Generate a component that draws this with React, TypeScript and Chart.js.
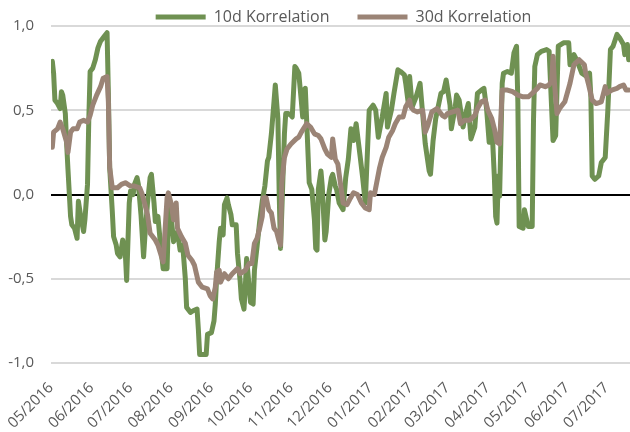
import React, { useEffect, useRef } from 'react';
import { Chart, registerables } from 'chart.js';

Chart.register(...registerables);

// Month tick labels and their day offsets from 2016-05-01
const monthLabels = ['05/2016', '06/2016', '07/2016', '08/2016', '09/2016', '10/2016', '11/2016', '12/2016', '01/2017', '02/2017', '03/2017', '04/2017', '05/2017', '06/2017', '07/2017'];
const monthStartDays = [0, 31, 61, 92, 123, 153, 184, 214, 245, 276, 304, 335, 365, 396, 426];

const yTicks = [-1, -0.5, 0, 0.5, 1];

// 10d Korrelation: day offset (from 2016-05-01) and value
const days10d = [1, 2, 3, 5, 7, 8, 9, 11, 12, 13, 15, 16, 18, 20, 21, 23, 25, 26, 28, 29, 30, 32, 34, 36, 38, 41, 43, 44, 45, 47, 48, 50, 51, 53, 55, 57, 58, 60, 61, 63, 64, 66, 67, 69, 71, 72, 74, 76, 77, 79, 80, 82, 84, 86, 89, 90, 91, 93, 94, 97, 99, 101, 103, 104, 107, 109, 112, 113, 114, 116, 119, 120, 123, 125, 126, 127, 129, 130, 132, 133, 135, 136, 138, 139, 142, 143, 145, 146, 148, 149, 150, 152, 153, 155, 156, 158, 160, 162, 164, 166, 167, 169, 171, 172, 174, 175, 176, 177, 179, 180, 182, 184, 185, 187, 188, 190, 192, 193, 194, 195, 196, 198, 200, 202, 203, 204, 205, 207, 208, 210, 211, 213, 215, 216, 218, 219, 221, 224, 226, 228, 230, 232, 234, 237, 239, 241, 244, 247, 249, 251, 254, 257, 258, 261, 263, 266, 268, 271, 272, 274, 275, 277, 280, 283, 285, 287, 290, 291, 293, 295, 299, 301, 303, 306, 307, 310, 311, 313, 316, 318, 320, 322, 325, 327, 330, 332, 334, 336, 338, 340, 341, 342, 343, 344, 346, 347, 350, 353, 355, 357, 358, 359, 362, 363, 366, 369, 370, 371, 373, 376, 380, 382, 385, 387, 389, 393, 397, 398, 401, 403, 407, 411, 413, 414, 415, 417, 420, 422, 425, 427, 429, 431, 434, 436, 439, 440, 442, 443];
const corr10d = [0.79, 0.72, 0.56, 0.54, 0.51, 0.61, 0.59, 0.48, 0.30, 0.15, -0.13, -0.18, -0.20, -0.26, -0.04, -0.14, -0.22, -0.15, 0.06, 0.45, 0.73, 0.75, 0.80, 0.87, 0.91, 0.94, 0.96, 0.60, 0.16, -0.10, -0.25, -0.30, -0.35, -0.37, -0.27, -0.35, -0.51, -0.05, 0.02, 0.00, 0.06, 0.10, 0.06, -0.12, -0.37, -0.25, -0.05, 0.10, 0.12, -0.05, -0.16, -0.13, -0.30, -0.44, -0.44, -0.15, -0.05, -0.20, -0.28, -0.22, -0.33, -0.30, -0.50, -0.67, -0.70, -0.69, -0.68, -0.80, -0.95, -0.95, -0.95, -0.83, -0.82, -0.75, -0.65, -0.50, -0.28, -0.20, -0.24, -0.06, -0.02, -0.06, -0.12, -0.18, -0.18, -0.35, -0.51, -0.62, -0.68, -0.55, -0.38, -0.55, -0.64, -0.65, -0.45, -0.31, -0.16, -0.04, 0.05, 0.20, 0.22, 0.36, 0.55, 0.65, 0.45, 0.00, -0.32, -0.10, 0.36, 0.48, 0.48, 0.47, 0.46, 0.76, 0.75, 0.72, 0.55, 0.46, 0.62, 0.63, 0.45, 0.07, 0.03, -0.15, -0.32, -0.33, 0.03, 0.14, 0.05, -0.27, -0.22, 0.00, 0.10, 0.12, 0.05, 0.03, -0.05, -0.09, 0.10, 0.21, 0.39, 0.32, 0.42, 0.23, 0.10, -0.05, 0.50, 0.53, 0.50, 0.34, 0.46, 0.60, 0.40, 0.50, 0.60, 0.74, 0.73, 0.71, 0.66, 0.54, 0.70, 0.52, 0.58, 0.66, 0.48, 0.30, 0.14, 0.12, 0.32, 0.45, 0.60, 0.61, 0.68, 0.53, 0.39, 0.52, 0.59, 0.56, 0.40, 0.48, 0.54, 0.33, 0.40, 0.60, 0.62, 0.63, 0.51, 0.31, 0.43, 0.10, -0.13, -0.17, 0.11, -0.01, 0.66, 0.72, 0.73, 0.72, 0.84, 0.88, 0.55, -0.19, -0.20, -0.09, -0.19, -0.19, 0.44, 0.76, 0.83, 0.85, 0.86, 0.85, 0.32, 0.35, 0.88, 0.90, 0.90, 0.77, 0.83, 0.80, 0.72, 0.70, 0.72, 0.58, 0.11, 0.09, 0.11, 0.19, 0.22, 0.50, 0.86, 0.88, 0.95, 0.93, 0.89, 0.83, 0.89, 0.80];

// 30d Korrelation: day offset (from 2016-05-01) and value
const days30d = [1, 2, 5, 7, 9, 12, 13, 15, 17, 20, 22, 25, 28, 30, 32, 35, 38, 40, 43, 44, 45, 47, 51, 54, 57, 61, 64, 68, 70, 74, 76, 80, 82, 84, 86, 89, 90, 92, 94, 96, 97, 100, 103, 105, 108, 110, 113, 116, 120, 122, 124, 126, 127, 129, 130, 133, 136, 139, 143, 145, 149, 152, 154, 156, 158, 160, 162, 163, 165, 167, 169, 171, 173, 175, 176, 177, 179, 181, 184, 188, 190, 192, 196, 199, 202, 205, 207, 210, 212, 215, 216, 218, 220, 221, 224, 227, 229, 232, 235, 238, 241, 244, 245, 248, 250, 252, 254, 257, 259, 262, 264, 267, 270, 272, 275, 276, 278, 281, 285, 287, 289, 292, 296, 300, 302, 304, 308, 312, 314, 317, 321, 325, 327, 330, 333, 335, 338, 340, 342, 344, 346, 350, 354, 358, 362, 366, 369, 373, 375, 379, 382, 384, 385, 386, 388, 390, 394, 398, 401, 405, 409, 410, 412, 415, 418, 422, 425, 426, 430, 434, 436, 439, 441, 443];
const corr30d = [0.28, 0.37, 0.39, 0.43, 0.39, 0.31, 0.25, 0.37, 0.39, 0.39, 0.43, 0.44, 0.43, 0.47, 0.53, 0.59, 0.64, 0.69, 0.70, 0.55, 0.16, 0.04, 0.04, 0.06, 0.07, 0.05, 0.05, 0.04, 0.00, -0.12, -0.23, -0.27, -0.30, -0.35, -0.40, -0.02, 0.01, -0.05, -0.15, -0.05, -0.20, -0.25, -0.29, -0.36, -0.39, -0.42, -0.52, -0.55, -0.56, -0.60, -0.62, -0.55, -0.46, -0.45, -0.52, -0.47, -0.50, -0.47, -0.44, -0.47, -0.45, -0.41, -0.41, -0.29, -0.26, -0.20, -0.13, -0.02, -0.02, -0.09, -0.11, -0.20, -0.22, -0.28, -0.30, 0.07, 0.22, 0.27, 0.30, 0.33, 0.34, 0.37, 0.42, 0.40, 0.36, 0.35, 0.33, 0.27, 0.24, 0.22, 0.33, 0.21, 0.18, 0.12, -0.05, -0.06, -0.03, 0.01, 0.00, -0.05, -0.08, -0.09, 0.01, 0.00, 0.08, 0.16, 0.22, 0.28, 0.34, 0.38, 0.42, 0.46, 0.46, 0.52, 0.56, 0.52, 0.50, 0.49, 0.50, 0.37, 0.41, 0.49, 0.51, 0.47, 0.46, 0.48, 0.49, 0.50, 0.42, 0.44, 0.44, 0.47, 0.51, 0.55, 0.56, 0.50, 0.45, 0.39, 0.31, 0.30, 0.62, 0.62, 0.61, 0.59, 0.58, 0.58, 0.60, 0.63, 0.65, 0.64, 0.65, 0.68, 0.82, 0.67, 0.48, 0.51, 0.55, 0.66, 0.77, 0.80, 0.77, 0.72, 0.66, 0.56, 0.54, 0.55, 0.64, 0.60, 0.62, 0.63, 0.64, 0.65, 0.62, 0.62];

const seriesNames = ['10d Korrelation', '30d Korrelation'];
const GREEN = '#6f9152';
const BROWN = '#9b8476';
const TEXT = '#595959';

const legendPlacer = {
  id: 'legendPlacer',
  afterLayout(chart: any) {
    const lg = chart.legend;
    if (!lg) return;
    const ca = chart.chartArea;
    lg.left = ca.left + 6;
    lg.right = ca.right;
    lg.width = lg.right - lg.left;
    lg.top = -19;
    lg.bottom = 40;
    lg.height = lg.bottom - lg.top;
  },
};

export default function App() {
  const ref = useRef<HTMLCanvasElement | null>(null);

  useEffect(() => {
    if (!ref.current) return;
    Chart.defaults.font.family = "'Open Sans', sans-serif";
    Chart.defaults.font.size = 15;
    Chart.defaults.color = TEXT;

    const chart = new Chart(ref.current, {
      type: 'line',
      data: {
        datasets: [
          {
            label: seriesNames[0],
            data: days10d.map((d, i) => ({ x: d, y: corr10d[i] })),
            borderColor: GREEN,
            backgroundColor: GREEN,
            borderWidth: 5,
            borderCapStyle: 'round',
            borderJoinStyle: 'round',
            pointRadius: 0,
            tension: 0,
            order: 2,
          },
          {
            label: seriesNames[1],
            data: days30d.map((d, i) => ({ x: d, y: corr30d[i] })),
            borderColor: BROWN,
            backgroundColor: BROWN,
            borderWidth: 5,
            borderCapStyle: 'round',
            borderJoinStyle: 'round',
            pointRadius: 0,
            tension: 0,
            order: 1,
          },
        ],
      },
      options: {
        animation: false,
        responsive: true,
        maintainAspectRatio: false,
        layout: { padding: 0 },
        plugins: {
          legend: {
            position: 'top',
            maxHeight: 24,
            labels: {
              usePointStyle: true,
              pointStyle: 'line',
              pointStyleWidth: 50,
              padding: 28,
              color: TEXT,
              font: { size: 16 },
              sort: (a: any, b: any) => a.datasetIndex - b.datasetIndex,
            },
          },
          tooltip: { enabled: false },
        },
        scales: {
          x: {
            type: 'linear',
            bounds: 'data',
            min: 0,
            max: 444,
            grid: { display: false, drawTicks: false },
            border: { display: false },
            afterBuildTicks: (scale: any) => {
              scale.ticks = monthStartDays.map((v) => ({ value: v }));
            },
            afterFit: (scale: any) => {
              scale.height = 69;
              scale.paddingLeft = 0;
              scale.paddingRight = 0;
            },
            ticks: {
              autoSkip: false,
              minRotation: 45,
              maxRotation: 45,
              padding: 16,
              color: TEXT,
              font: { size: 15 },
              callback: (v: any) => {
                const i = monthStartDays.indexOf(Number(v));
                return i >= 0 ? monthLabels[i] : '';
              },
            },
          },
          y: {
            min: -1,
            max: 1,
            afterBuildTicks: (scale: any) => {
              scale.ticks = yTicks.map((v) => ({ value: v }));
            },
            afterFit: (scale: any) => {
              scale.width = 51;
            },
            grid: {
              drawTicks: false,
              color: (ctx: any) => (ctx.tick && ctx.tick.value === 0 ? '#000000' : '#d9d9d9'),
              lineWidth: 2,
            },
            border: { display: false },
            ticks: {
              padding: 17,
              color: TEXT,
              font: { size: 15 },
              callback: (v: any) => Number(v).toFixed(1).replace('.', ','),
            },
          },
        },
      },
      plugins: [legendPlacer],
    } as any);

    return () => chart.destroy();
  }, []);

  return (
    <div style={{ position: 'absolute', left: 0, top: 0, width: 630, height: 432 }}>
      <canvas ref={ref} />
    </div>
  );
}
